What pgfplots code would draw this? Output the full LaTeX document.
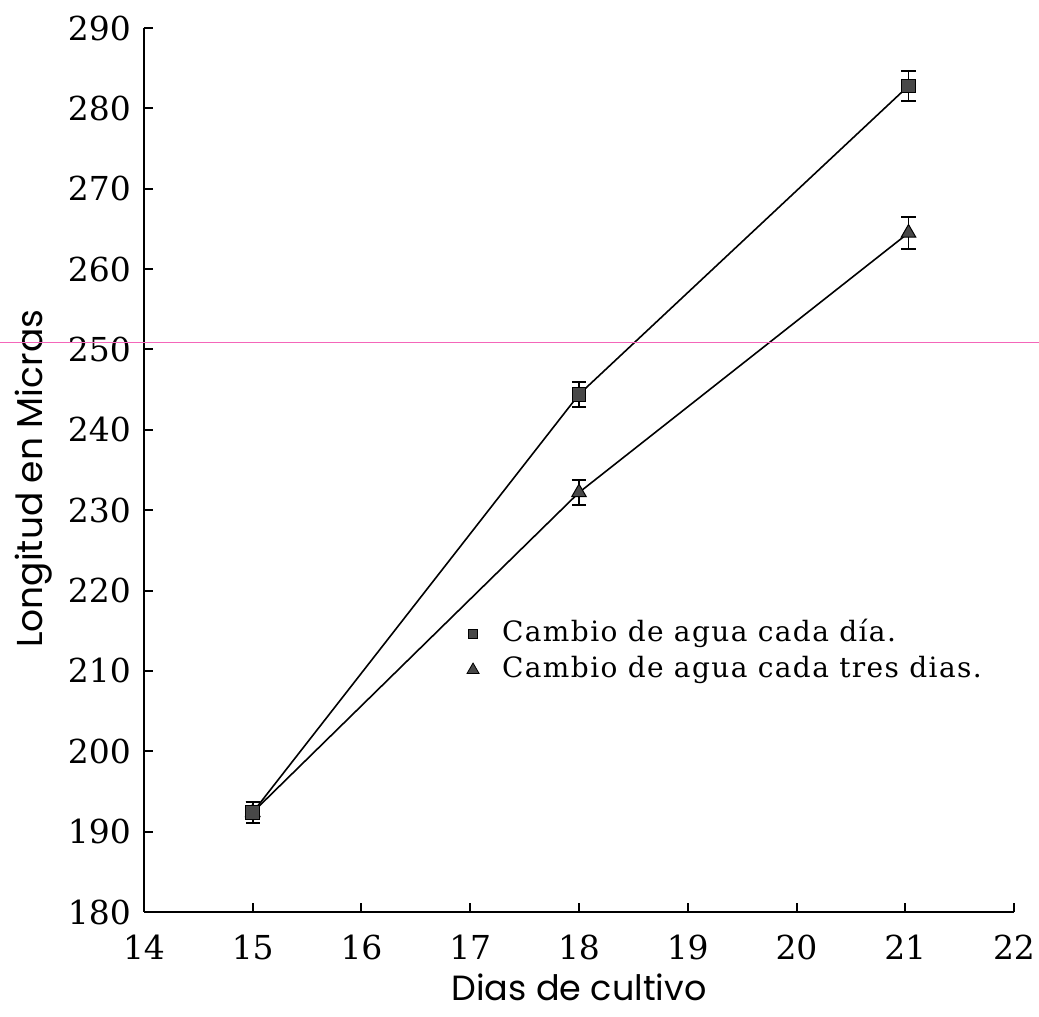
\documentclass[border=0pt]{standalone}
\usepackage{pgfplots}
\pgfplotsset{compat=1.18}
\usepackage{fontspec}
\setmainfont{DejaVu Serif}
\newfontfamily\labfont{Poppins}
\newfontfamily\legfont[LetterSpace=5]{DejaVu Serif}
\definecolor{markgray}{HTML}{484848}
\begin{document}
\begin{tikzpicture}
\begin{axis}[
  scale only axis,
  width=435pt, height=442pt,
  xmin=14, xmax=22, ymin=180, ymax=290,
  axis lines*=left,
  axis line style={line width=1pt, -},
  tick align=inside,
  major tick length=4.5pt,
  tick style={line width=1pt, black},
  xtick={14,15,...,22},
  ytick={180,190,...,290},
  /pgf/number format/assume math mode=true,
  tick label style={font=\fontsize{16.5}{19}\selectfont},
  yticklabel style={xshift=-3pt},
  xticklabel style={yshift=-8pt},
  clip=false,
  legend style={at={(axis cs:16.97,216.33)}, anchor=north west, draw=none, fill=none,
    inner sep=0pt, outer sep=0pt,
    font=\legfont\fontsize{14}{17}\selectfont, row sep=4pt,
    nodes={inner ysep=0.5pt, text height=10pt, text depth=3pt},
    /tikz/every odd column/.append style={column sep=9.5pt}},
  legend cell align=left,
]
\addlegendimage{only marks, mark=square*, mark size=2.4pt, mark options={fill=markgray, draw=black, line width=0.4pt}}
\addlegendentry{Cambio de agua cada día.}
\addlegendimage{only marks, mark=triangle*, mark size=3.5pt, mark options={fill=markgray, draw=black, line width=0.4pt}}
\addlegendentry{Cambio de agua cada tres dias.}

% Cambio de agua cada tres dias (triangles)
\addplot[forget plot, black, line width=0.8pt, mark=triangle*, mark size=4.2pt,
  mark options={fill=markgray, draw=black, line width=0.5pt},
  error bars/.cd, y dir=both, y explicit,
  error bar style={line width=0.9pt, black},
  error mark options={rotate=90, mark size=3.6pt, line width=0.9pt, black}]
  coordinates {
  (15.0,192.4) +- (0,1.3)
  (18.0,232.2) +- (0,1.6)
  (21.03,264.5) +- (0,2.0)
};
% Cambio de agua cada dia (squares)
\addplot[forget plot, black, line width=0.8pt, mark=square*, mark size=3.4pt,
  mark options={fill=markgray, draw=black, line width=0.5pt},
  error bars/.cd, y dir=both, y explicit,
  error bar style={line width=0.9pt, black},
  error mark options={rotate=90, mark size=3.6pt, line width=0.9pt, black}]
  coordinates {
  (15.0,192.4) +- (0,1.35)
  (18.0,244.4) +- (0,1.55)
  (21.03,282.8) +- (0,1.85)
};
\coordinate (O) at (rel axis cs:0,0);
\coordinate (P) at (axis cs:14,250.9);
\node[font=\labfont\fontsize{17.5}{21}\selectfont, anchor=base, inner sep=0pt] at ([yshift=-44pt]axis description cs:0.5,0) {Dias de cultivo};
\node[font=\labfont\fontsize{18}{21}\selectfont, anchor=base, rotate=90] at ([xshift=-50.5pt]axis description cs:0,0.49) {Longitud en Micras};
\end{axis}
\draw[magenta!60, line width=0.5pt] ([xshift=-72pt]P) -- ([xshift=447.5pt]P);
\pgfresetboundingbox
\path[use as bounding box] ([shift={(-72pt,-52.5pt)}]O) rectangle ([shift={(447.5pt,456pt)}]O);
\end{tikzpicture}
\end{document}
